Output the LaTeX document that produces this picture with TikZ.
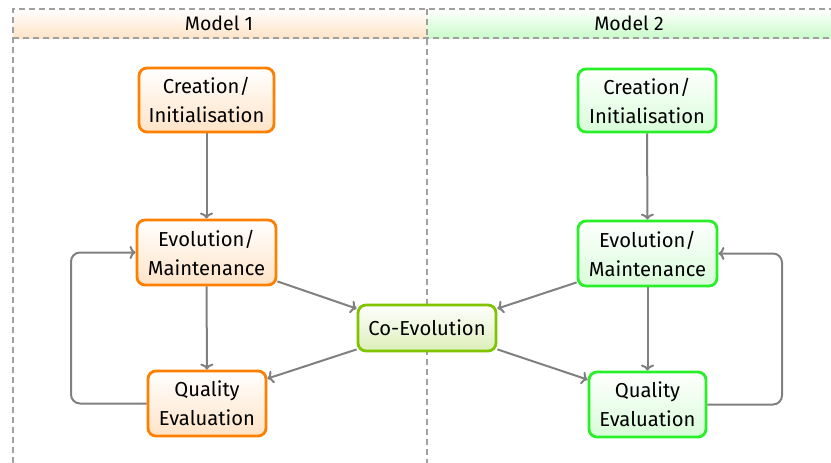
\documentclass[tikz,border=0pt]{standalone}
\usepackage{fontspec}
\setmainfont{Fira Sans}
\usetikzlibrary{arrows.meta,calc}
\definecolor{orng}{RGB}{255,128,0}
\definecolor{grn}{RGB}{40,240,40}
\definecolor{ygrn}{RGB}{128,196,0}
\definecolor{arr}{RGB}{128,128,128}
\definecolor{dashc}{RGB}{160,160,160}
\tikzset{
  box/.style={rounded corners=8pt, line width=2.8pt, align=center, inner sep=2pt,
    font=\fontsize{20.2}{29}\selectfont, text=black},
  obox/.style={box, draw=orng, top color=white, bottom color=orng!22},
  gbox/.style={box, draw=grn, top color=white, bottom color=grn!18},
  ybox/.style={box, draw=ygrn, top color=white, bottom color=ygrn!28},
  conn/.style={draw=arr, line width=2pt, -{To[length=6pt,width=13pt]}},
  sep/.style={draw=dashc, line width=1.4pt, dash pattern=on 6pt off 4pt},
  hdr/.style={font=\fontsize{19.5}{22}\selectfont},
}
\begin{document}
\begin{tikzpicture}[x=1pt,y=-1pt]
\useasboundingbox (0,0) rectangle (831,463);
% headers
\shade[top color=white, bottom color=orng!22] (13,9) rectangle (427,38);
\shade[top color=white, bottom color=grn!25] (427,9) rectangle (840,38);
\draw[sep] (13,463) -- (13,9) -- (840,9);
\draw[sep] (13,38) -- (840,38);
\draw[sep] (427,9) -- (427,463);
\node[hdr] (h1) at (219,23) {Model 1};
\node[hdr] (h2) at (629,23) {Model 2};
% model 1
\node[obox, minimum width=135pt, minimum height=64pt] (c1) at (206.5,100) {Creation/\\Initialisation};
\node[obox, minimum width=139pt, minimum height=65pt] (e1) at (206.5,252.5) {Evolution/\\Maintenance};
\node[obox, minimum width=118pt, minimum height=65pt] (q1) at (207,403.5) {Quality\\Evaluation};
% model 2
\node[gbox, minimum width=138pt, minimum height=63pt] (c2) at (647,100.5) {Creation/\\Initialisation};
\node[gbox, minimum width=139pt, minimum height=65pt] (e2) at (647.5,253.5) {Evolution/\\Maintenance};
\node[gbox, minimum width=117pt, minimum height=65pt] (q2) at (647.5,404.5) {Quality\\Evaluation};
% co-evolution
\node[ybox, minimum width=138pt, minimum height=46pt] (co) at (427,328) {Co-Evolution};
% connectors
\draw[conn] (c1) -- (e1);
\draw[conn] (e1) -- (q1);
\draw[conn] (c2) -- (e2);
\draw[conn] (e2) -- (q2);
\draw[conn, rounded corners=9pt] (q1.west) -- (71,403.5) -- (71,252.5) -- (e1.west);
\draw[conn, rounded corners=9pt] (q2.east) -- (782,404.5) -- (782,253.5) -- (e2.east);
\draw[conn] ([yshift=5pt]e1.south east) -- ([yshift=-5pt]co.north west);
\draw[conn] ([yshift=5pt]e2.south west) -- ([yshift=-5pt]co.north east);
\draw[conn] ([yshift=3pt]co.south west) -- ([yshift=-9pt]q1.north east);
\draw[conn] ([yshift=3pt]co.south east) -- ([yshift=-9pt]q2.north west);
\end{tikzpicture}
\end{document}
